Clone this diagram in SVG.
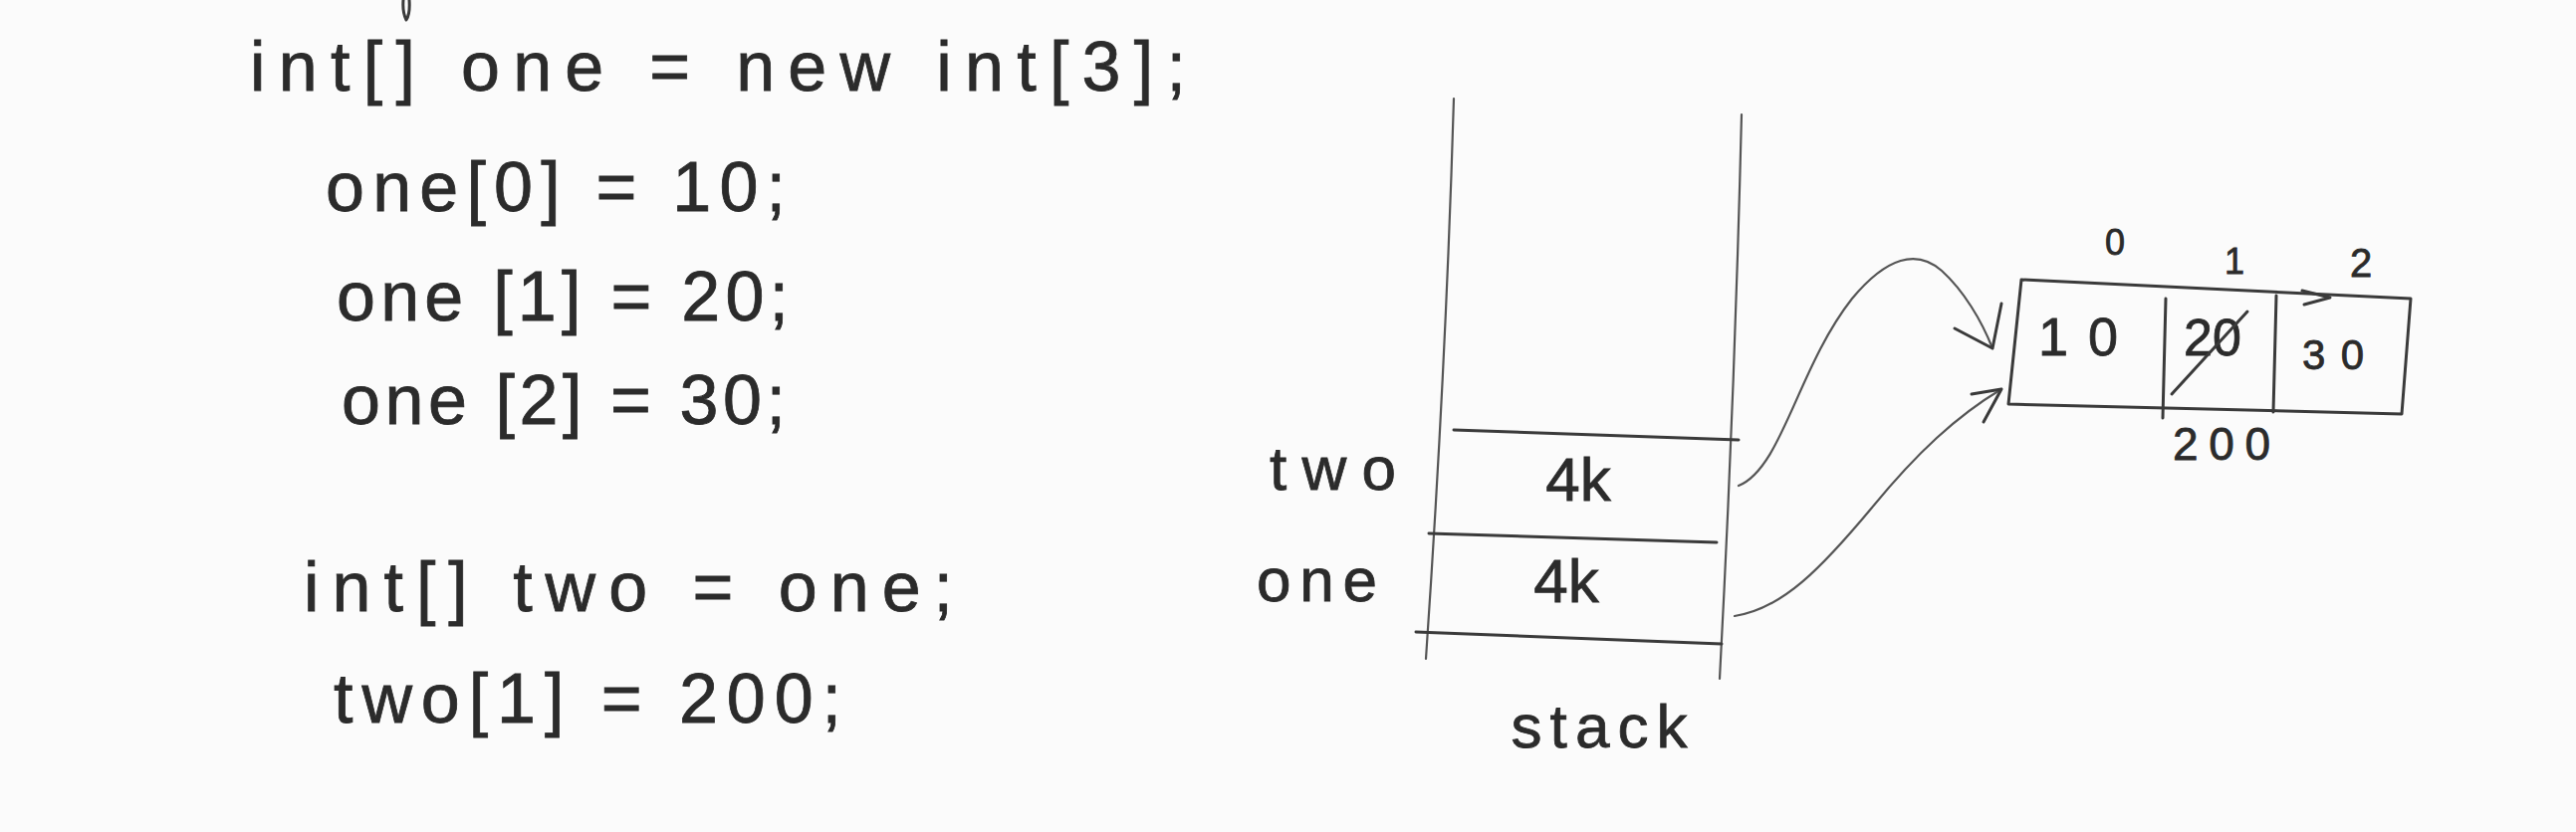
<svg xmlns="http://www.w3.org/2000/svg" width="2587" height="836" viewBox="0 0 2587 836">
<style>
.t{font-family:"Liberation Sans","DejaVu Sans",sans-serif;fill:#2b2b2b;stroke:#2b2b2b;stroke-width:0.8;}
.code{font-size:70px;}
.lbl{font-size:62px;}
.s{fill:none;stroke:#3a3a3a;stroke-width:3;stroke-linecap:round;stroke-linejoin:round;}
.c{fill:none;stroke:#555;stroke-width:2.2;stroke-linecap:round;}
</style>
<rect width="2587" height="836" fill="#fbfbfb"/>
<g id="code">
<path class="s" d="M405,0 Q404,12 408,20 Q412,14 411,0"/>
<text class="t code" x="251" y="91" textLength="940" lengthAdjust="spacing">int[] one = new int[3];</text>
<text class="t code" x="327" y="212" textLength="462" lengthAdjust="spacing">one[0] = 10;</text>
<text class="t code" x="338" y="322" textLength="454" lengthAdjust="spacing">one [1] = 20;</text>
<text class="t code" x="343" y="426" textLength="446" lengthAdjust="spacing">one [2] = 30;</text>
<text class="t code" x="305" y="614" textLength="652" lengthAdjust="spacing">int[] two = one;</text>
<text class="t code" x="335" y="726" textLength="510" lengthAdjust="spacing">two[1] = 200;</text>
</g>
<g id="stack">
<path class="c" d="M1460,99 Q1452,370 1432,662"/>
<path class="c" d="M1749,115 Q1742,400 1727,682"/>
<path class="s" d="M1422,635 L1729,647"/>
<text class="t lbl" x="1606" y="751" text-anchor="middle" textLength="177" lengthAdjust="spacing">stack</text>
</g>
<g id="cell-two">
<path class="s" d="M1460,432 L1746,442"/>
<text class="t lbl" x="1275" y="492" textLength="127" lengthAdjust="spacing">two</text>
<text class="t lbl" x="1585" y="503" text-anchor="middle">4k</text>
</g>
<g id="cell-one">
<path class="s" d="M1435,536 L1724,545"/>
<text class="t lbl" x="1262" y="604" textLength="121" lengthAdjust="spacing">one</text>
<text class="t lbl" x="1573" y="605" text-anchor="middle">4k</text>
</g>
<g id="array">
<path class="s" d="M2030,281 L2421,300 L2412,416 L2017,406 Z"/>
<path class="s" d="M2175,300 L2172,420"/>
<path class="s" d="M2286,297 L2283,414"/>
<path class="s" d="M2312,292 L2340,299 L2314,306"/>
<text class="t" x="2087" y="357" font-size="54" text-anchor="middle" textLength="80" lengthAdjust="spacing">10</text>
<text class="t" x="2222" y="357" font-size="52" text-anchor="middle">20</text>
<path class="s" d="M2181,396 L2257,313"/>
<text class="t" x="2343" y="371" font-size="42" text-anchor="middle" textLength="62" lengthAdjust="spacing">30</text>
<text class="t" x="2124" y="256" font-size="36" text-anchor="middle">0</text>
<text class="t" x="2244" y="275" font-size="36" text-anchor="middle">1</text>
<text class="t" x="2371" y="278" font-size="40" text-anchor="middle">2</text>
<text class="t" x="2231" y="462" font-size="46" text-anchor="middle" textLength="98" lengthAdjust="spacing">200</text>
</g>
<g id="connectors">
<path class="c" d="M1746,488 C1790,470 1805,370 1860,300 C1895,258 1925,250 1950,272 C1972,292 1990,322 2001,350"/>
<path class="s" d="M1963,330 L2001,350 L2010,305"/>
<path class="c" d="M1742,619 C1790,612 1830,570 1880,510 C1925,455 1965,418 2010,391"/>
<path class="s" d="M1980,396 L2010,391 L1992,424"/>
</g>
</svg>
